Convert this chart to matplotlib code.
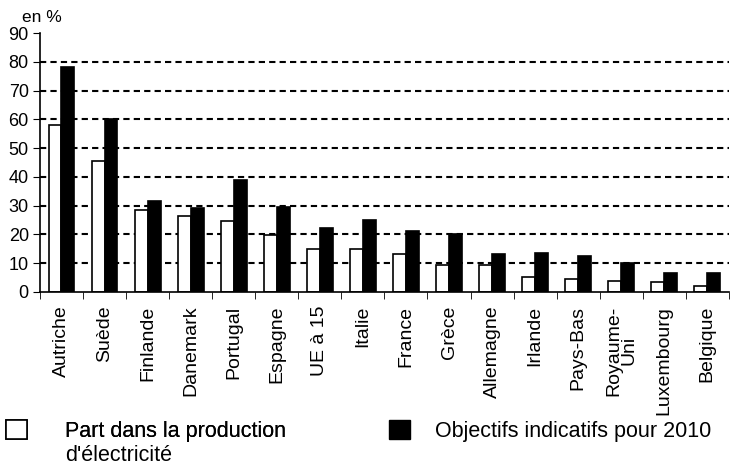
import numpy as np
import matplotlib.pyplot as plt
from matplotlib.patches import Patch

plt.rcParams['font.family'] = ['Liberation Sans', 'DejaVu Sans']

pays = ["Autriche", "Suède", "Finlande", "Danemark", "Portugal", "Espagne",
        "UE à 15", "Italie", "France", "Grèce", "Allemagne", "Irlande",
        "Pays-Bas", "Royaume-\nUni", "Luxembourg", "Belgique"]
part_production = [58, 45.5, 28.5, 26.3, 24.5, 19.7, 14.8, 14.8, 13.2, 9.5,
                   9.5, 5.3, 4.6, 3.8, 3.4, 2.2]
objectifs_2010 = [78.1, 60, 31.5, 29, 39, 29.4, 22.1, 25, 21, 20.1,
                  13.2, 13.5, 12.6, 10.1, 6.5, 6.5]

fig = plt.figure(figsize=(7.4, 4.73), dpi=100)
ax = fig.add_axes([0.054, 0.383, 0.931, 0.547])

x = np.arange(len(pays))
w = 0.3
ax.bar(x - w / 2, part_production, w, color="white", edgecolor="black", linewidth=1.2)
ax.bar(x + w / 2, objectifs_2010, w, color="black", edgecolor="black", linewidth=1.2)

ax.set_xlim(-0.5, len(pays) - 0.5)
ax.set_ylim(0, 90)
ax.set_yticks(range(0, 91, 10))
ax.tick_params(axis="y", labelsize=13, length=5, direction="out", pad=3)
for y in range(10, 81, 10):
    ax.axhline(y, color="black", linestyle=(0, (3, 2)), linewidth=1.5, zorder=0)

ax.set_xticks(x)
ax.set_xticklabels(pays, rotation=90, fontsize=14, linespacing=0.9)
ax.tick_params(axis="x", length=0, pad=10)
ax.set_xticks(np.arange(-0.5, len(pays)), minor=True)
ax.tick_params(axis="x", which="minor", length=5, direction="out")

for s in ["top", "right"]:
    ax.spines[s].set_visible(False)
ax.spines["left"].set_linewidth(1.2)
ax.spines["bottom"].set_linewidth(1.2)

fig.text(0.03, 0.962, "en %", fontsize=12.5, va="center")

h1 = Patch(facecolor="white", edgecolor="black", linewidth=1.2)
h2 = Patch(facecolor="black", edgecolor="black")
leg1 = fig.legend(handles=[h1], labels=["Part dans la production"], loc="upper left",
                  bbox_to_anchor=(0.008, 0.112), borderaxespad=0, borderpad=0,
                  frameon=False, fontsize=15.5, handlelength=1.0, handleheight=1.0,
                  handletextpad=1.75)
fig.text(0.088, 0.036, "d'électricité", fontsize=15.5, va="center")
leg2 = fig.legend(handles=[h2], labels=["Objectifs indicatifs pour 2010"], loc="upper left",
                  bbox_to_anchor=(0.525, 0.112), borderaxespad=0, borderpad=0,
                  frameon=False, fontsize=15.5, handlelength=1.0, handleheight=1.0,
                  handletextpad=1.15)
fig.add_artist(leg1)

fig.savefig("out.png", dpi=100)
